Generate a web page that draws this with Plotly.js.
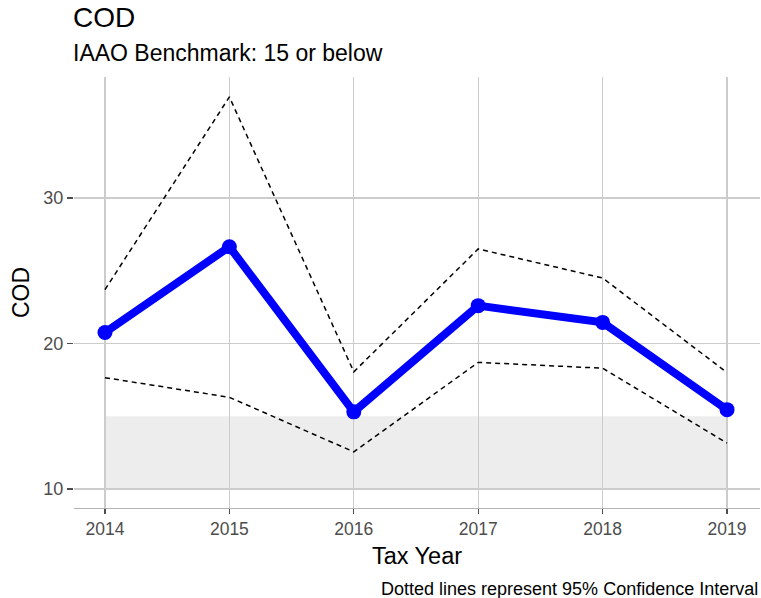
<!DOCTYPE html>
<html>
<head>
<meta charset="utf-8">
<script src="https://cdn.plot.ly/plotly-3.0.1.min.js"></script>
<style>html,body{margin:0;padding:0;background:#fff;}#chart{width:761px;height:598px;}</style>
</head>
<body>
<div id="chart"></div>
<script>
// Data
const years = [2014, 2015, 2016, 2017, 2018, 2019];
const cod = [20.75, 26.65, 15.3, 22.6, 21.45, 15.45];
const ciUpper = [23.7, 36.95, 18.05, 26.5, 24.5, 18.0];
const ciLower = [17.65, 16.3, 12.55, 18.7, 18.3, 13.15];
const benchmark = 15;
const benchmarkFloor = 10;
const yTicks = [10, 20, 30];

const FONT = '"Liberation Sans", Arial, sans-serif';

const traces = [
  {
    x: years, y: ciUpper, type: 'scatter', mode: 'lines',
    line: {color: '#000000', width: 1.5, dash: '5px,4px'},
    hoverinfo: 'skip', showlegend: false
  },
  {
    x: years, y: ciLower, type: 'scatter', mode: 'lines',
    line: {color: '#000000', width: 1.5, dash: '5px,4px'},
    hoverinfo: 'skip', showlegend: false
  },
  {
    x: years, y: cod, type: 'scatter', mode: 'lines+markers',
    line: {color: '#0000FF', width: 8},
    marker: {color: '#0000FF', size: 15},
    showlegend: false
  }
];

const layout = {
  width: 761, height: 598,
  margin: {l: 74, r: 1, t: 77, b: 90},
  paper_bgcolor: '#ffffff', plot_bgcolor: '#ffffff',
  font: {family: FONT, color: '#000000'},
  showlegend: false,
  xaxis: {
    range: [2013.751, 2019.265],
    tickvals: years, ticktext: years.map(String),
    tickfont: {family: FONT, size: 17.5, color: '#4d4d4d'},
    ticks: 'outside', ticklen: 5, tickcolor: '#4d4d4d', tickwidth: 1.2,
    showgrid: true, gridcolor: '#cccccc', gridwidth: 1.3,
    zeroline: false,
    showline: true, linecolor: '#b3b3b3', linewidth: 1.3,
    title: {text: 'Tax Year', font: {family: FONT, size: 23.5, color: '#000000'}, standoff: 9}
  },
  yaxis: {
    range: [8.69, 38.32],
    tickvals: yTicks,
    tickfont: {family: FONT, size: 18, color: '#4d4d4d'},
    ticks: 'outside', ticklen: 6, tickcolor: '#4d4d4d', tickwidth: 1.2,
    showgrid: true, gridcolor: '#cccccc', gridwidth: 1.3,
    zeroline: false, showline: false,
    title: {text: 'COD', font: {family: FONT, size: 23, color: '#000000'}, standoff: 7}
  },
  shapes: [
    {
      type: 'rect', xref: 'x', yref: 'y', layer: 'below',
      x0: years[0], x1: years[years.length - 1], y0: benchmarkFloor, y1: benchmark,
      fillcolor: '#ededed', line: {width: 0}
    }
  ],
  annotations: [
    {
      text: 'COD', xref: 'paper', yref: 'paper', x: 0, y: 1.138, xshift: -3,
      xanchor: 'left', yanchor: 'middle', showarrow: false,
      font: {family: FONT, size: 28, color: '#000000'}
    },
    {
      text: 'IAAO Benchmark: 15 or below', xref: 'paper', yref: 'paper', x: 0, y: 1.0557, xshift: -3,
      xanchor: 'left', yanchor: 'middle', showarrow: false,
      font: {family: FONT, size: 23, color: '#000000'}
    },
    {
      text: 'Dotted lines represent 95% Confidence Interval', xref: 'paper', yref: 'paper',
      x: 0.997, y: -0.188, xshift: 2, xanchor: 'right', yanchor: 'middle', showarrow: false,
      font: {family: FONT, size: 18, color: '#000000'}
    }
  ]
};

Plotly.newPlot('chart', traces, layout, {displayModeBar: false, staticPlot: true});
</script>
</body>
</html>
